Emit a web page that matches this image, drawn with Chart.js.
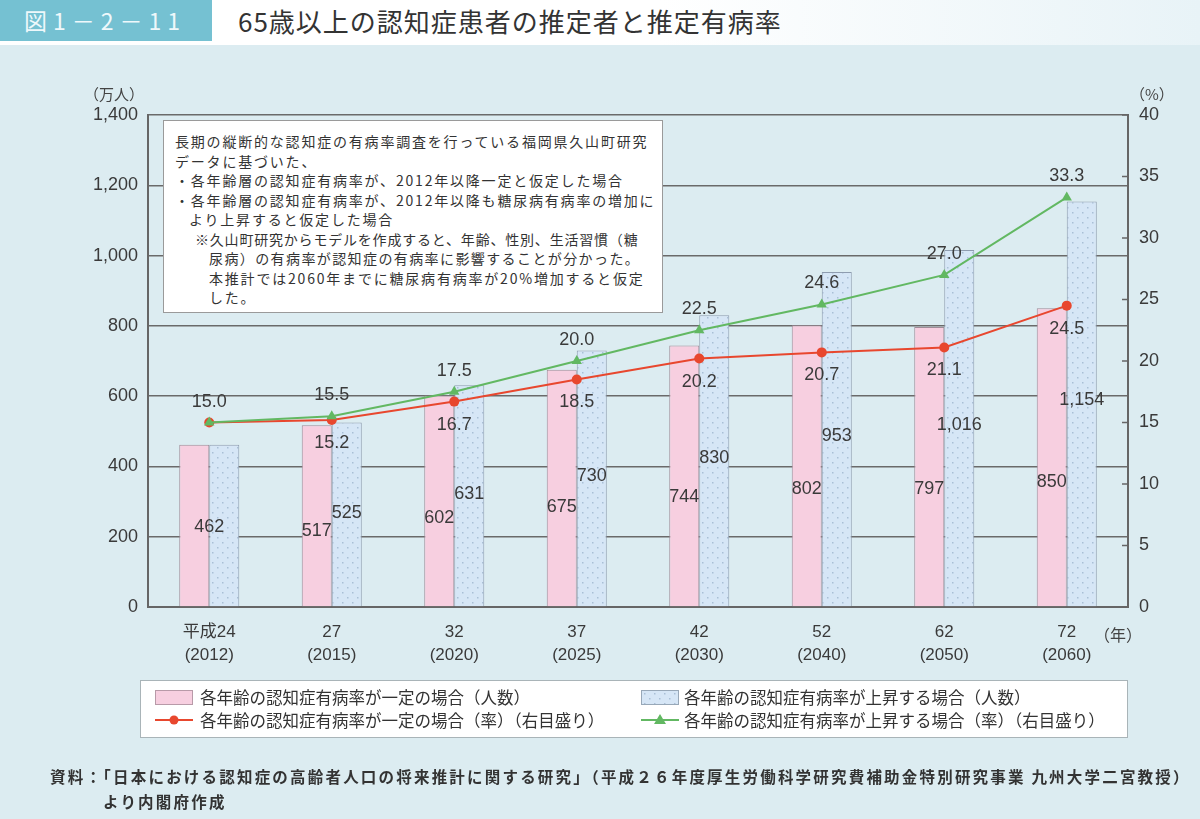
<!DOCTYPE html>
<html lang="ja">
<head>
<meta charset="utf-8">
<script src="https://cdn.jsdelivr.net/npm/chart.js@4.4.1/dist/chart.umd.min.js"></script>
<style>
  html,body{margin:0;padding:0;}
  body{width:1200px;height:819px;background:#dcecf1;position:relative;overflow:hidden;
       font-family:"Noto Sans CJK JP","Liberation Sans",sans-serif;color:#333;}
  #topband{position:absolute;left:0;top:0;width:1200px;height:45px;
       background:linear-gradient(to right,#ffffff 55%,#e8f3f7);}
  #figno{position:absolute;left:0;top:0;width:212px;height:41px;background:#75c1d2;
       color:#eef8fb;font-size:23px;line-height:41px;padding-left:24px;box-sizing:border-box;letter-spacing:6px;white-space:nowrap;}
  #title{position:absolute;left:238px;top:0;height:42px;line-height:42px;font-size:26px;color:#333;letter-spacing:1px;white-space:nowrap;}
  #wrap{position:absolute;left:0;top:0;width:1200px;height:819px;}
  .unit{position:absolute;font-size:15px;color:#444;}
  #note{position:absolute;left:163px;top:120px;width:500px;height:193px;box-sizing:border-box;
       background:#fff;border:1.5px solid #9a9a9a;padding:11px 0 0 11px;font-size:14px;line-height:19.5px;
       letter-spacing:1.8px;color:#333;white-space:nowrap;}
  #note div{white-space:nowrap;}
  #legend{position:absolute;left:140px;top:680px;width:988px;height:58px;box-sizing:border-box;
       background:#fff;border:1px solid #a9b4b8;}
  .li{position:absolute;font-size:16.5px;color:#333;white-space:nowrap;line-height:20px;}
  .sw{position:absolute;width:38px;height:15px;box-sizing:border-box;}
  #foot{position:absolute;left:50px;top:764px;font-size:15.5px;color:#333;line-height:25px;font-weight:700;letter-spacing:2.2px;white-space:nowrap;}
</style>
</head>
<body>
<div id="topband"></div>
<div id="figno">図1－2－11</div>
<div id="title">65歳以上の認知症患者の推定者と推定有病率</div>
<div id="wrap"><canvas id="c" width="1200" height="819"></canvas></div>
<div class="unit" style="left:84px;top:83px;">（万人）</div>
<div class="unit" style="left:1130px;top:83px;">（%）</div>
<div class="unit" style="left:1094px;top:622px;font-size:16px;">（年）</div>
<div id="note">
  <div>長期の縦断的な認知症の有病率調査を行っている福岡県久山町研究</div>
  <div>データに基づいた、</div>
  <div>・各年齢層の認知症有病率が、2012年以降一定と仮定した場合</div>
  <div>・各年齢層の認知症有病率が、2012年以降も糖尿病有病率の増加に</div>
  <div style="padding-left:14px;">より上昇すると仮定した場合</div>
  <div style="padding-left:20px;letter-spacing:0.8px;">※久山町研究からモデルを作成すると、年齢、性別、生活習慣（糖</div>
  <div style="padding-left:34px;letter-spacing:1.4px;">尿病）の有病率が認知症の有病率に影響することが分かった。</div>
  <div style="padding-left:34px;">本推計では2060年までに糖尿病有病率が20%増加すると仮定</div>
  <div style="padding-left:34px;">した。</div>
</div>
<div id="legend">
  <div class="sw" style="left:14px;top:9px;background:#f7cfe0;border:1px solid #b89aa8;"></div>
  <div class="li" style="left:59px;top:6px;">各年齢の認知症有病率が一定の場合（人数）</div>
  <div class="sw" id="bluesw" style="left:500px;top:9px;background:#d6e6f6;border:1px solid #98a8b8;"></div>
  <div class="li" style="left:543px;top:6px;">各年齢の認知症有病率が上昇する場合（人数）</div>
  <canvas id="lgline" width="988" height="58" style="position:absolute;left:0;top:0;"></canvas>
  <div class="li" style="left:59px;top:29px;">各年齢の認知症有病率が一定の場合（率）（右目盛り）</div>
  <div class="li" style="left:543px;top:29px;">各年齢の認知症有病率が上昇する場合（率）（右目盛り）</div>
</div>
<div id="foot">
  <div>資料：「日本における認知症の高齢者人口の将来推計に関する研究」（平成２６年度厚生労働科学研究費補助金特別研究事業 九州大学二宮教授）</div>
  <div style="padding-left:53px;">より内閣府作成</div>
</div>
<script>
// ---- data ----
const categories = [['平成24','(2012)'],['27','(2015)'],['32','(2020)'],['37','(2025)'],['42','(2030)'],['52','(2040)'],['62','(2050)'],['72','(2060)']];
const constantCount = [462, 517, 602, 675, 744, 802, 797, 850];
const risingCount   = [462, 525, 631, 730, 830, 953, 1016, 1154];
const constantRate  = [15.0, 15.2, 16.7, 18.5, 20.2, 20.7, 21.1, 24.5];
const risingRate    = [15.0, 15.5, 17.5, 20.0, 22.5, 24.6, 27.0, 33.3];
const leftTicks  = [0, 200, 400, 600, 800, 1000, 1200, 1400];
const rightTicks = [0, 5, 10, 15, 20, 25, 30, 35, 40];
const seriesNames = ['各年齢の認知症有病率が一定の場合（人数）','各年齢の認知症有病率が上昇する場合（人数）','各年齢の認知症有病率が一定の場合（率）（右目盛り）','各年齢の認知症有病率が上昇する場合（率）（右目盛り）'];

const RED = '#e8472e', GREEN = '#62b862';
const numFont = "'Liberation Sans','DejaVu Sans',sans-serif";

// dotted pattern for the "rising" bars
function dotPattern(){
  const p = document.createElement('canvas'); p.width = 10; p.height = 10;
  const g = p.getContext('2d');
  g.fillStyle = '#d6e6f6'; g.fillRect(0,0,10,10);
  g.fillStyle = '#a9bfd6';
  g.fillRect(2,2,1.5,1.5); g.fillRect(7,7,1.5,1.5);
  return g.createPattern(p,'repeat');
}
const bluePat = dotPattern();

const labelPlugin = {
  id:'labels',
  afterDatasetsDraw(chart){
    const ctx = chart.ctx, ys = chart.scales.y;
    const m0 = chart.getDatasetMeta(0), m1 = chart.getDatasetMeta(1), m2 = chart.getDatasetMeta(2), m3 = chart.getDatasetMeta(3);
    ctx.save();
    ctx.font = '18px ' + numFont;
    ctx.fillStyle = '#3a3a3a';
    ctx.textAlign = 'center'; ctx.textBaseline = 'middle';
    const fmt = v => v.toLocaleString('en-US');
    for (let i = 0; i < categories.length; i++){
      if (i === 0){
        const x = (m0.data[0].x + m1.data[0].x)/2;
        ctx.fillText(fmt(constantCount[0]), x, ys.getPixelForValue(constantCount[0]*0.49));
        ctx.fillText(constantRate[0].toFixed(1), m3.data[0].x, m3.data[0].y - 20);
        continue;
      }
      ctx.fillText(fmt(constantCount[i]), m0.data[i].x, ys.getPixelForValue(constantCount[i]*0.42));
      ctx.fillText(fmt(risingCount[i]), m1.data[i].x, ys.getPixelForValue(risingCount[i]*0.51));
      ctx.fillText(risingRate[i].toFixed(1), m3.data[i].x, m3.data[i].y - 21);
      ctx.fillText(constantRate[i].toFixed(1), m2.data[i].x, m2.data[i].y + 23);
    }
    ctx.restore();
  },
  afterDraw(chart){
    const ctx = chart.ctx, s = chart.scales.y1, r = chart.chartArea.right;
    ctx.save(); ctx.strokeStyle = '#666'; ctx.lineWidth = 1.5;
    s.ticks.forEach((t,k) => {
      const y = s.getPixelForTick(k);
      ctx.beginPath(); ctx.moveTo(r - 6, y); ctx.lineTo(r + 1, y); ctx.stroke();
    });
    ctx.restore();
  }
};

new Chart(document.getElementById('c'), {
  data:{
    labels: categories,
    datasets:[
      {type:'bar', label:seriesNames[0], data:constantCount, yAxisID:'y', backgroundColor:'#f7cfe0',
       borderColor:'#a08c98', borderWidth:1, barPercentage:1, categoryPercentage:0.49, order:2},
      {type:'bar', label:seriesNames[1], data:risingCount, yAxisID:'y', backgroundColor:bluePat,
       borderColor:'#8e9caf', borderWidth:1, barPercentage:1, categoryPercentage:0.49, order:2},
      {type:'line', label:seriesNames[2], data:constantRate, yAxisID:'y1', borderColor:RED, backgroundColor:RED,
       borderWidth:2, pointRadius:5, pointStyle:'circle', pointBorderWidth:0, tension:0, order:1},
      {type:'line', label:seriesNames[3], data:risingRate, yAxisID:'y1', borderColor:GREEN, backgroundColor:GREEN,
       borderWidth:2, pointRadius:6, pointStyle:'triangle', pointBorderWidth:0, tension:0, order:0}
    ]
  },
  options:{
    responsive:false, animation:false, devicePixelRatio:1,
    layout:{padding:{left:88, right:0, top:115, bottom:152}},
    plugins:{legend:{display:false}, tooltip:{enabled:false}},
    scales:{
      x:{
        grid:{display:false, drawTicks:false},
        border:{display:true, color:'#666', width:2},
        ticks:{color:'#3a3a3a', padding:14, font:{size:17, family:numFont + ",'Noto Sans CJK JP'", lineHeight:1.35}, maxRotation:0, autoSkip:false},
        afterFit(s){ s.height = 60; }
      },
      y:{
        position:'left', min:leftTicks[0], max:leftTicks[leftTicks.length-1],
        grid:{color:'#6a6a6a', lineWidth:1.5, drawTicks:false},
        border:{display:true, color:'#666', width:2},
        ticks:{stepSize:leftTicks[1]-leftTicks[0], padding:10, color:'#3a3a3a', font:{size:18, family:numFont},
               callback:v => v.toLocaleString('en-US')},
        afterFit(s){ s.width = 60; }
      },
      y1:{
        position:'right', min:rightTicks[0], max:rightTicks[rightTicks.length-1],
        grid:{display:false, drawTicks:false},
        border:{display:true, color:'#666', width:2},
        ticks:{stepSize:rightTicks[1]-rightTicks[0], padding:11, color:'#3a3a3a', font:{size:18, family:numFont}},
        afterFit(s){ s.width = 72; }
      }
    }
  },
  plugins:[labelPlugin]
});

// legend line markers
(function(){
  const c = document.getElementById('lgline').getContext('2d');
  function lineItem(x, y, color, tri){
    c.strokeStyle = color; c.fillStyle = color; c.lineWidth = 2;
    c.beginPath(); c.moveTo(x, y); c.lineTo(x + 38, y); c.stroke();
    const cx = x + 19;
    c.beginPath();
    if (tri){ c.moveTo(cx, y - 6); c.lineTo(cx + 6, y + 4); c.lineTo(cx - 6, y + 4); c.closePath(); }
    else { c.arc(cx, y, 4.5, 0, Math.PI*2); }
    c.fill();
  }
  lineItem(14, 39, RED, false);
  lineItem(500, 39, GREEN, true);
  const sw = document.getElementById('bluesw');
  const pc = document.createElement('canvas'); pc.width = 36; pc.height = 13;
  const g = pc.getContext('2d'); g.fillStyle = bluePat; g.fillRect(0,0,36,13);
  sw.style.backgroundImage = 'url(' + pc.toDataURL() + ')';
})();
</script>
</body>
</html>
